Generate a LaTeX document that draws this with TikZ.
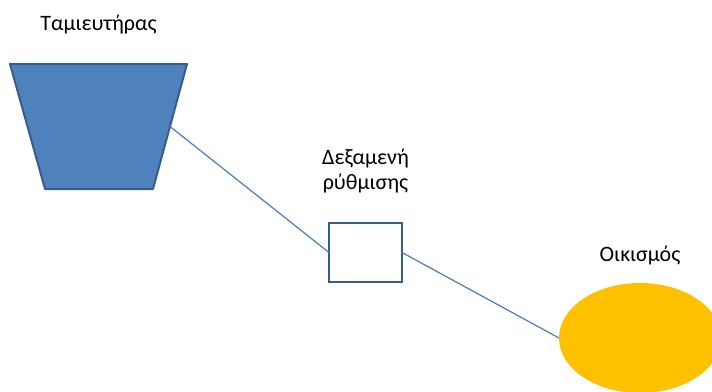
\documentclass[tikz,border=0pt]{standalone}
\usepackage{fontspec}
\setmainfont{Carlito}
\usetikzlibrary{shapes.geometric}
\definecolor{tankblue}{HTML}{4F81BD}
\definecolor{edgeblue}{HTML}{385D8A}
\definecolor{pipeblue}{HTML}{4A7EBB}
\definecolor{townyellow}{HTML}{FFC000}
\begin{document}
\begin{tikzpicture}[x=1pt,y=-1pt]
\tikzstyle{nametext} = [font=\fontsize{22}{25}\selectfont, inner sep=0pt]
\tikzstyle{pipe} = [pipeblue, line width=1.2pt]
\useasboundingbox (0,0) rectangle (712,391);
\clip (0,0) rectangle (712,391);
% reservoir, regulating tank, settlement
\draw[fill=tankblue, draw=edgeblue, line width=2pt, line join=round]
  (10,64) -- (187,64) -- (153,189) -- (45,189) -- cycle;
\coordinate (tank) at (170,126.5);
\node[rectangle, minimum width=73pt, minimum height=59pt, inner sep=0pt, outer sep=0pt,
  fill=white, draw=edgeblue, line width=2pt] (box) at (365.5,252.5) {};
\node[ellipse, minimum width=162pt, minimum height=110pt, inner sep=0pt, outer sep=0pt,
  fill=townyellow] (town) at (640,338) {};
% labels
\node[nametext, anchor=base] (tanklbl) at (98.5,30) {Ταμιευτήρας};
\node[nametext, align=center] (boxlbl) at (365.5,171) {Δεξαμενή\\ρύθμισης};
\node[nametext, anchor=base] (townlbl) at (640,261) {Οικισμός};
% pipes
\draw[pipe] (tank) -- (box.west);
\draw[pipe] (box.east) -- (town.west);
\end{tikzpicture}
\end{document}
